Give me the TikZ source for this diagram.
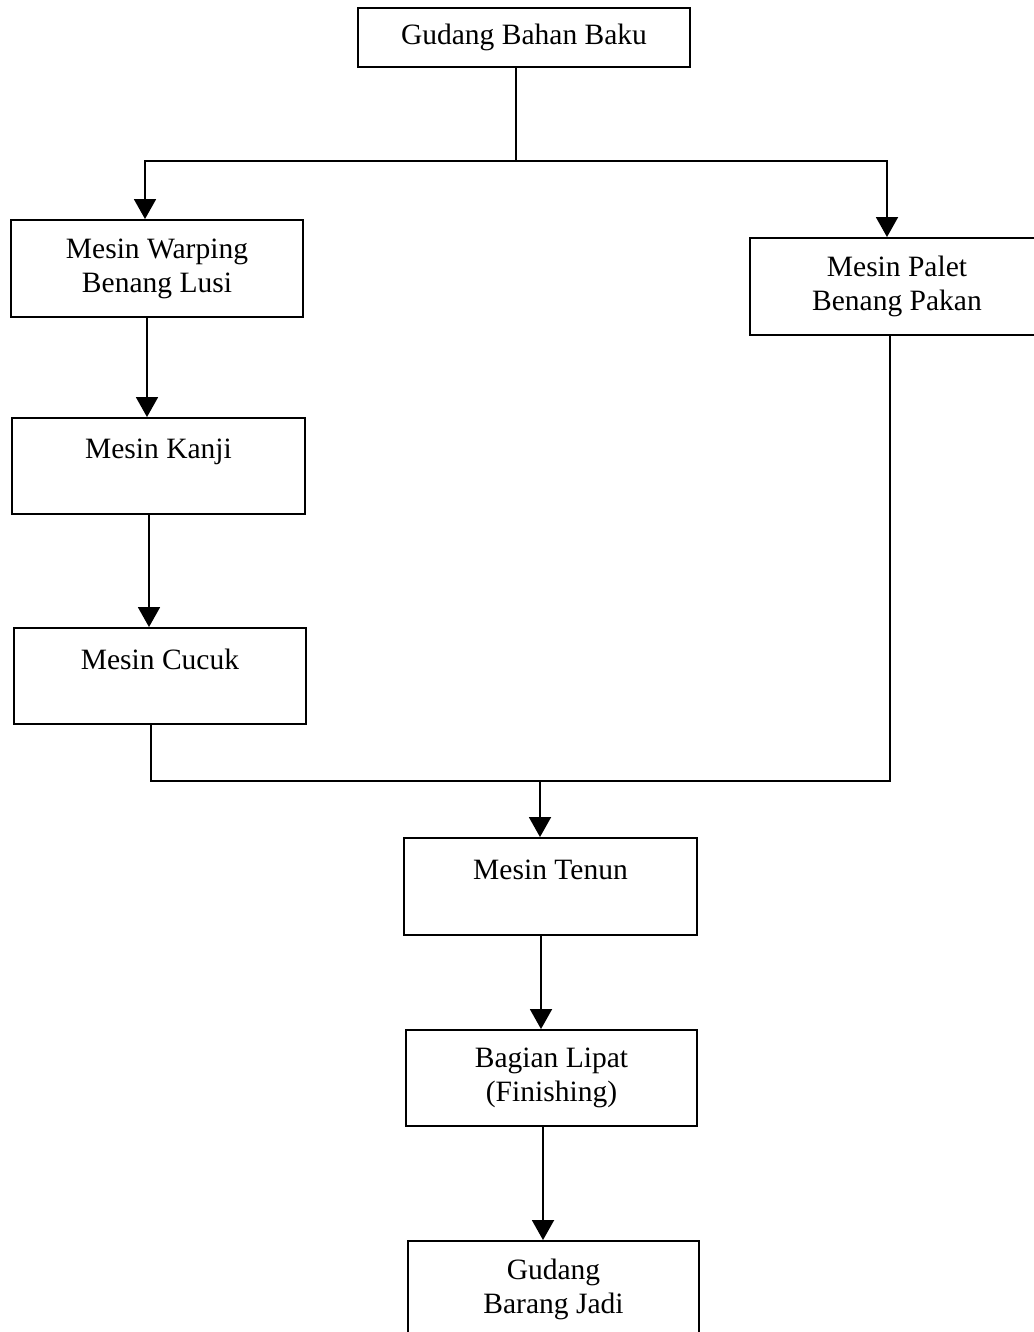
\documentclass[tikz,border=0pt]{standalone}
\usepackage{fontspec}
\setmainfont{Liberation Serif}
\usepackage{tikz}
\usetikzlibrary{arrows.meta}
\usetikzlibrary{calc}

\begin{document}
\begin{tikzpicture}[x=0.02cm, y=-0.02cm, line width=1.1pt,
        box_style/.style={rectangle,draw=black,align=center,inner sep=0pt,font=\fontsize{16.8}{19.4}\selectfont},
        line_style/.style={draw=black, line width=1.1pt},
        arrow_style/.style={draw=black, line width=1.1pt,-{Triangle[length=0.4cm,width=0.44cm]}}]

        \clip (0,0) rectangle (1034,1332);

        \node [box_style,minimum width=332*0.02cm,minimum height=59*0.02cm](gbb) at (524,37.5) {Gudang Bahan Baku};

        \node [box_style,minimum width=292*0.02cm,minimum height=97*0.02cm](warping) at (157,268.5) {Mesin Warping\\Benang Lusi};

        \node [box_style,minimum width=294*0.02cm,minimum height=97*0.02cm](palet) at (897,286.5) {Mesin Palet\\Benang Pakan};

        \node [box_style,minimum width=293*0.02cm,minimum height=96*0.02cm](kanji) at (158.5,466) {Mesin Kanji\\\mbox{}};

        \node [box_style,minimum width=292*0.02cm,minimum height=96*0.02cm](cucuk) at (160,676) {Mesin Cucuk\\\mbox{}};

        \node [box_style,minimum width=293*0.02cm,minimum height=97*0.02cm](tenun) at (550.5,886.5) {Mesin Tenun\\\mbox{}};

        \node [box_style,minimum width=291*0.02cm,minimum height=96*0.02cm](lipat) at (551.5,1078) {Bagian Lipat\\(Finishing)};

        \node [box_style,minimum width=291*0.02cm,minimum height=96*0.02cm](jadi) at (553.5,1289) {Gudang\\Barang Jadi};

        \coordinate (split) at (516,161);
        \coordinate (merge) at (540,781);

        \draw [line_style] (gbb.south -| split) -- (split);

        \draw [arrow_style] (split) -| ([xshift=-0.24cm]warping.north);

        \draw [arrow_style] (split) -| ([xshift=-0.2cm]palet.north);

        \draw [arrow_style] ([xshift=-0.2cm]warping.south) -- ([xshift=-0.2cm]warping.south |- kanji.north);

        \draw [arrow_style] ([xshift=-0.19cm]kanji.south) -- ([xshift=-0.19cm]kanji.south |- cucuk.north);

        \draw [line_style] ([xshift=-0.18cm]cucuk.south) |- (merge) -| ([xshift=-0.14cm]palet.south);

        \draw [arrow_style] (merge) -- (merge |- tenun.north);

        \draw [arrow_style] ([xshift=-0.19cm]tenun.south) -- ([xshift=-0.19cm]tenun.south |- lipat.north);

        \draw [arrow_style] ([xshift=-0.17cm]lipat.south) -- ([xshift=-0.17cm]lipat.south |- jadi.north);

        \end{tikzpicture}
\end{document}
